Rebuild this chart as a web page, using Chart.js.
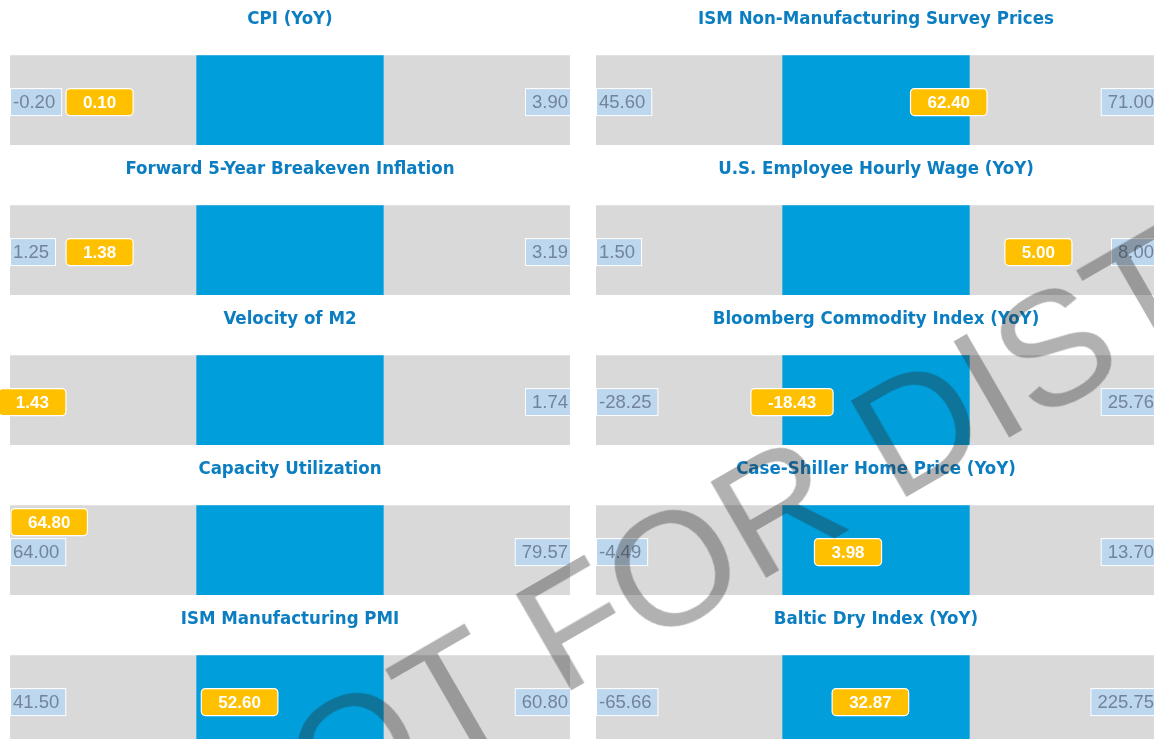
<!DOCTYPE html>
<html lang="en">
<head>
    <meta charset="UTF-8">
    <title>Indicator Ranges</title>
    <script src="https://cdn.jsdelivr.net/npm/chart.js"></script>
    <style>
        html, body { margin: 0; padding: 0; background: #fff; }
        body { width: 1154px; height: 739px; overflow: hidden; position: relative; }
        .panel { position: absolute; height: 150px; }
        .panel canvas { display: block; }
        .watermark {
            position: absolute; left: 1028px; top: 362px; z-index: 5;
            transform: translate(-50%, -50%) rotate(-30deg);
            font-family: "Liberation Sans", Arial, sans-serif;
            font-size: 162px; line-height: 1; color: rgba(40, 40, 40, 0.36);
            white-space: nowrap; pointer-events: none;
        }
    </style>
</head>
<body>
    <script>
        // panels in reading order: left column top to bottom, then right column
        const titles = [
            'CPI (YoY)', 'Forward 5-Year Breakeven Inflation', 'Velocity of M2',
            'Capacity Utilization', 'ISM Manufacturing PMI',
            'ISM Non-Manufacturing Survey Prices', 'U.S. Employee Hourly Wage (YoY)',
            'Bloomberg Commodity Index (YoY)', 'Case-Shiller Home Price (YoY)', 'Baltic Dry Index (YoY)'
        ];
        const lowValues = ['-0.20', '1.25', null, '64.00', '41.50', '45.60', '1.50', '-28.25', '-4.49', '-65.66'];
        const highValues = ['3.90', '3.19', '1.74', '79.57', '60.80', '71.00', '8.00', '25.76', '13.70', '225.75'];
        const currentValues = ['0.10', '1.38', '1.43', '64.80', '52.60', '62.40', '5.00', '-18.43', '3.98', '32.87'];
        // where the current reading sits inside its historical range (percentile)
        const percentiles = [16, 16, 4, 7, 41, 63, 79, 35, 45, 49];
        const bands = [[100 / 3, 200 / 3], [0, 100]]; // middle third + full range

        const labelPlugin = {
            id: 'rangeLabels',
            afterDatasetsDraw(chart) {
                const i = chart.options.plugins.rangeLabels.index;
                const ctx = chart.ctx;
                const xs = chart.scales.x;
                const area = chart.chartArea;
                const midY = (area.top + area.bottom) / 2 + 2;

                ctx.save();
                ctx.textBaseline = 'middle';
                ctx.font = '18.5px "Liberation Sans", Arial, sans-serif';

                // low / high boxes
                let lowBox = null;
                if (lowValues[i] !== null) {
                    const w = ctx.measureText(lowValues[i]).width + 9;
                    lowBox = { x: xs.getPixelForValue(0), w: w };
                    ctx.fillStyle = '#bdd7ee';
                    ctx.strokeStyle = '#ffffff';
                    ctx.lineWidth = 1;
                    ctx.fillRect(lowBox.x, midY - 13, w, 27);
                    ctx.strokeRect(lowBox.x + 0.5, midY - 13.5, w, 27);
                    ctx.fillStyle = '#72849a';
                    ctx.textAlign = 'left';
                    ctx.fillText(lowValues[i], lowBox.x + 3, midY + 1);
                }
                const hw = ctx.measureText(highValues[i]).width + 9;
                const hx = xs.getPixelForValue(100) - hw;
                ctx.fillStyle = '#bdd7ee';
                ctx.strokeStyle = '#ffffff';
                ctx.fillRect(hx, midY - 13, hw, 27);
                ctx.strokeRect(hx + 0.5, midY - 13.5, hw, 27);
                ctx.fillStyle = '#72849a';
                ctx.textAlign = 'right';
                ctx.fillText(highValues[i], hx + hw - 2, midY + 1);

                // current value tag
                ctx.font = 'bold 17px "Liberation Sans", Arial, sans-serif';
                const tw = ctx.measureText(currentValues[i]).width + 34;
                const cx = xs.getPixelForValue(percentiles[i]);
                let ty = midY;
                if (lowBox && cx - tw / 2 < lowBox.x + lowBox.w && cx - tw / 2 >= lowBox.x - 2) {
                    ty = midY - 30; // lift above the low box when they would collide
                }
                ctx.beginPath();
                ctx.roundRect(cx - tw / 2, ty - 13.5, tw, 27, 4);
                ctx.fillStyle = '#ffc000';
                ctx.fill();
                ctx.lineWidth = 1.2;
                ctx.strokeStyle = '#ffffff';
                ctx.stroke();
                ctx.fillStyle = '#ffffff';
                ctx.textAlign = 'center';
                ctx.fillText(currentValues[i], cx, ty + 1);
                ctx.restore();
            }
        };

        titles.forEach((title, i) => {
            const col = i < 5 ? 0 : 1;
            const row = i % 5;
            const div = document.createElement('div');
            div.className = 'panel';
            div.style.top = (row * 150) + 'px';
            div.style.left = (col === 0 ? 0 : 583) + 'px';
            div.style.width = (col === 0 ? 583 : 573) + 'px';
            const canvas = document.createElement('canvas');
            div.appendChild(canvas);
            document.body.appendChild(div);

            new Chart(canvas, {
                type: 'bar',
                data: {
                    labels: [''],
                    datasets: [
                        { data: [bands[0]], backgroundColor: '#009fdb', borderWidth: 0, grouped: false },
                        { data: [bands[1]], backgroundColor: '#d9d9d9', borderWidth: 0, grouped: false }
                    ]
                },
                options: {
                    indexAxis: 'y',
                    responsive: true,
                    maintainAspectRatio: false,
                    animation: false,
                    barPercentage: 1,
                    categoryPercentage: 1,
                    layout: { padding: { left: col === 0 ? 10 : 13, right: col === 0 ? 13 : 0, top: 0, bottom: 5 } },
                    scales: {
                        x: { display: false, min: 0, max: 100 },
                        y: { display: false }
                    },
                    plugins: {
                        legend: { display: false },
                        tooltip: { enabled: false },
                        title: {
                            display: true,
                            text: title,
                            color: '#0b7dc1',
                            font: { family: '"DejaVu Sans Condensed", sans-serif', size: 18.5, weight: 'bold' },
                            padding: { top: 8, bottom: 25 }
                        },
                        rangeLabels: { index: i }
                    }
                },
                plugins: [labelPlugin]
            });
        });

        const mark = document.createElement('div');
        mark.className = 'watermark';
        mark.textContent = 'NOT FOR DISTRIBUTION';
        document.body.appendChild(mark);
    </script>
</body>
</html>
